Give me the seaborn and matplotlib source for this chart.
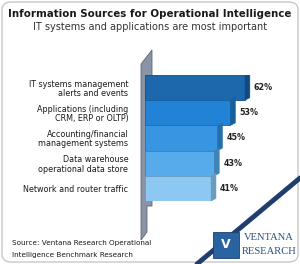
import matplotlib
matplotlib.use("Agg")
import matplotlib.pyplot as plt
import seaborn as sns
import pandas as pd
from matplotlib.patches import FancyBboxPatch, Polygon, Rectangle
from matplotlib.lines import Line2D

sns.set_theme(style="white")
plt.rcParams['font.family'] = ['DejaVu Sans']

# dados
categorias = ['IT systems management\nalerts and events',
              'Applications (including\nCRM, ERP or OLTP)',
              'Accounting/financial\nmanagement systems',
              'Data warehouse\noperational data store',
              'Network and router traffic']
valores = [62, 53, 45, 43, 41]
cores = ['#1d67ad', '#2283d6', '#3795e2', '#58abea', '#8cc8f1']
cores_lado = ['#124a80', '#17609f', '#2670aa', '#3f83b5', '#6a9cc0']

df = pd.DataFrame({'Categoria': categorias, 'Valor': valores})

fig = plt.figure(figsize=(3.0, 2.64), dpi=100)
W, H = 300, 264

def fx(px):
    return px / W

def fy(py):
    return 1 - py / H

# moldura arredondada
fig.patches.append(FancyBboxPatch((fx(2), fy(262)), fx(296), 260 / H,
                                  boxstyle="round,pad=0,rounding_size=0.03",
                                  transform=fig.transFigure, facecolor='white',
                                  edgecolor='#c8c8c8', linewidth=1.0, zorder=0))

# titulo
fig.text(0.5, fy(14), 'Information Sources for Operational Intelligence',
         ha='center', va='center', fontsize=7.4, fontweight='bold', color='#1a1a1a')
fig.text(0.5, fy(27), 'IT systems and applications are most important',
         ha='center', va='center', fontsize=7.0, color='#333333')

# parede cinza do eixo
fig.patches.append(Polygon([(fx(141), fy(240)), (fx(141), fy(64)), (fx(152), fy(50)),
                            (fx(152), fy(206)), (fx(147), fy(206)), (fx(147), fy(232))],
                           closed=True, transform=fig.transFigure,
                           facecolor='#8a94a6', edgecolor='#5d6675', linewidth=0.6, zorder=1))

ax = fig.add_axes([fx(145), fy(201), fx(135), 126 / H])
ax.set_zorder(2)
ax.patch.set_alpha(0)
sns.barplot(data=df, x='Valor', y='Categoria', hue='Categoria', palette=cores,
            width=1.0, legend=False, ax=ax, orient='h', saturation=1)

# efeito 3D simples: lado direito mais escuro
for i, (barra, lado) in enumerate(zip(ax.patches, cores_lado)):
    barra.set_edgecolor(lado)
    barra.set_linewidth(0.6)
    y0 = barra.get_y()
    h = barra.get_height()
    x1 = barra.get_x() + barra.get_width()
    ax.add_patch(Polygon([(x1, y0 + h), (x1, y0), (x1 + 3, y0 - 0.1), (x1 + 3, y0 + h - 0.1)],
                         closed=True, facecolor=lado, edgecolor=lado, linewidth=0.4))
    ax.text(x1 + 5.5, i, f'{valores[i]}%', va='center', ha='left',
            fontsize=5.8, fontweight='bold', color='#222222')

ax.set_xlim(0, 135 / 1.613)
ax.set_ylim(4.5, -0.5)
ax.set_xlabel('')
ax.set_ylabel('')
ax.set_xticks([])
ax.tick_params(axis='y', length=0, pad=12, labelsize=5.8, labelcolor='#1a1a1a')
for t in ax.get_yticklabels():
    t.set_linespacing(1.05)
sns.despine(ax=ax, left=True, bottom=True)

# faixa diagonal
fig.lines.append(Line2D([fx(197), fx(300)], [fy(264), fy(178)], transform=fig.transFigure,
                        color='#1f3d6e', linewidth=3.5, zorder=1))

# fonte
fig.text(fx(12), fy(243), 'Source: Ventana Research Operational',
         ha='left', va='center', fontsize=5.2, color='#1a1a1a')
fig.text(fx(12), fy(255), 'Intelligence Benchmark Research',
         ha='left', va='center', fontsize=5.2, color='#1a1a1a')

# logo
fig.patches.append(Rectangle((fx(213), fy(258)), fx(26), 26 / H, transform=fig.transFigure,
                             facecolor='#2a64a0', edgecolor='#1c3f6e', linewidth=0.6, zorder=3))
fig.text(fx(226), fy(245), 'V', ha='center', va='center', fontsize=9, fontweight='bold',
         color='white', zorder=4)
fig.text(fx(269), fy(238), 'VENTANA', ha='center', va='center', fontsize=7.6,
         family='Liberation Serif', color='#2a4e80', zorder=4)
fig.text(fx(269), fy(251), 'RESEARCH', ha='center', va='center', fontsize=7.6,
         family='Liberation Serif', color='#2a4e80', zorder=4)

plt.savefig('out.png', dpi=100)
